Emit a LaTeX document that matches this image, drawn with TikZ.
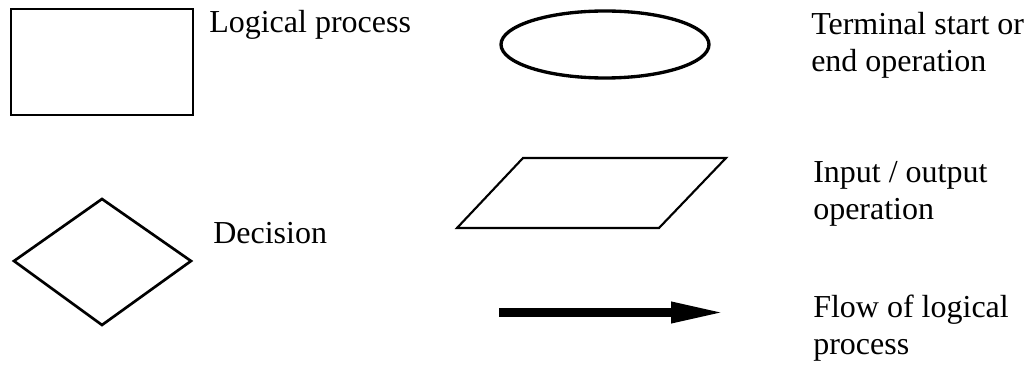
\documentclass[tikz,border=0pt]{standalone}
\usepackage{fontspec}
\setmainfont{Liberation Serif}
\usetikzlibrary{arrows.meta, positioning}

\tikzset{
  legendtext/.style={anchor=base west, inner sep=0pt, align=left,
    font=\fontsize{24pt}{27.75pt}\selectfont},
  shapeline/.style={line width=1.6pt, line join=miter}
}

\begin{document}
\begin{tikzpicture}[x=0.75pt, y=-0.75pt]
\useasboundingbox (0,0) rectangle (1033,367);
% symbols
\draw [shapeline] (11,9) rectangle (193,115);
\draw [line width=2.5pt] (605,44.5) ellipse (104 and 33.5);
\draw [shapeline, line width=2pt] (102,199) -- (191,261) -- (102,325) -- (14,261) -- cycle;
\draw [shapeline] (523,158) -- (726,158) -- (659,228) -- (457,228) -- cycle;
\coordinate (flowstart) at (499,312.5);
\coordinate (flowend) at (727,312.5);
\draw [line width=7pt, -{Triangle[length=42pt, width=14.25pt]}] (flowstart) -- (flowend);
% labels (anchored at the last line)
\node [legendtext] (process) at (209,33) {Logical process};
\node [legendtext] (terminal) at (811,72) {Terminal start or\\end operation};
\node [legendtext] (decision) at (213,244) {Decision};
\node [legendtext] (inout) at (813,220) {Input / output\\operation};
\node [legendtext] (flow) at (813,354) {Flow of logical\\process};
\end{tikzpicture}
\end{document}
